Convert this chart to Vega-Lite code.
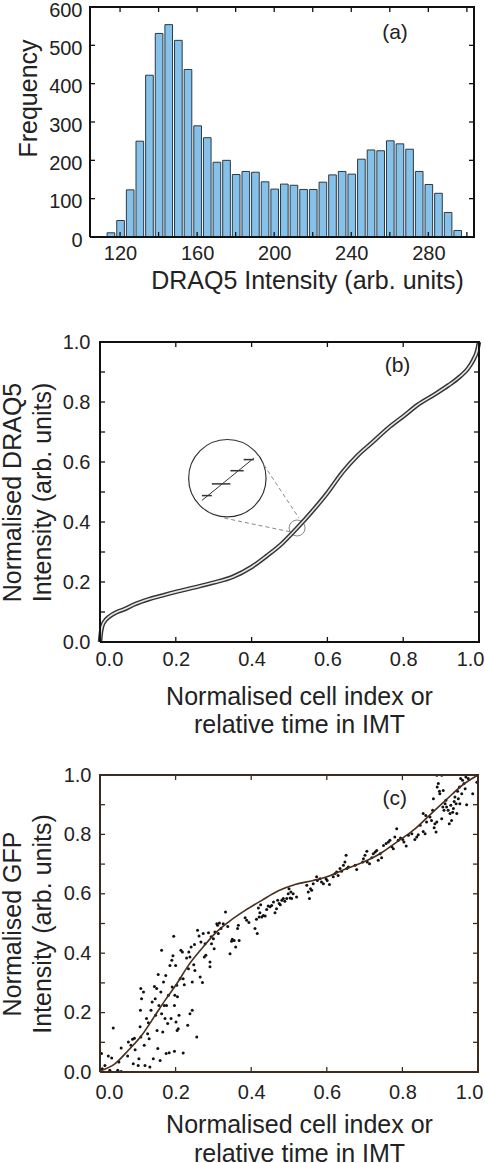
{
  "$schema": "https://vega.github.io/schema/vega-lite/v6.json",
  "padding": {"left": 0, "top": 0, "right": 0, "bottom": 0},
  "background": "white",
  "spacing": 39,
  "config": {
    "font": "Liberation Sans",
    "axis": {
      "labelFont": "Liberation Sans", "labelFontSize": 20, "labelColor": "#222",
      "titleFont": "Liberation Sans", "titleFontSize": 25, "titleFontWeight": "normal", "titleColor": "#222",
      "grid": false, "domain": false, "ticks": false
    }
  },
  "vconcat": [
    {
      "width": 384, "height": 230,
      "view": {"stroke": null},
      "resolve": {"axis": {"x": "independent", "y": "independent"}},
      "layer": [
        {
          "data": {"values": [
            {"lo":112.5,"hi":117.5,"n":11},{"lo":117.5,"hi":122.5,"n":43},{"lo":122.5,"hi":127.5,"n":123},
            {"lo":127.5,"hi":132.5,"n":250},{"lo":132.5,"hi":137.5,"n":422},{"lo":137.5,"hi":142.5,"n":531},
            {"lo":142.5,"hi":147.5,"n":554},{"lo":147.5,"hi":152.5,"n":513},{"lo":152.5,"hi":157.5,"n":437},
            {"lo":157.5,"hi":162.5,"n":290},{"lo":162.5,"hi":167.5,"n":259},{"lo":167.5,"hi":172.5,"n":195},
            {"lo":172.5,"hi":177.5,"n":200},{"lo":177.5,"hi":182.5,"n":163},{"lo":182.5,"hi":187.5,"n":171},
            {"lo":187.5,"hi":192.5,"n":169},{"lo":192.5,"hi":197.5,"n":144},{"lo":197.5,"hi":202.5,"n":125},
            {"lo":202.5,"hi":207.5,"n":138},{"lo":207.5,"hi":212.5,"n":135},{"lo":212.5,"hi":217.5,"n":124},
            {"lo":217.5,"hi":222.5,"n":124},{"lo":222.5,"hi":227.5,"n":143},{"lo":227.5,"hi":232.5,"n":162},
            {"lo":232.5,"hi":237.5,"n":171},{"lo":237.5,"hi":242.5,"n":164},{"lo":242.5,"hi":247.5,"n":203},
            {"lo":247.5,"hi":252.5,"n":227},{"lo":252.5,"hi":257.5,"n":225},{"lo":257.5,"hi":262.5,"n":251},
            {"lo":262.5,"hi":267.5,"n":243},{"lo":267.5,"hi":272.5,"n":229},{"lo":272.5,"hi":277.5,"n":171},
            {"lo":277.5,"hi":282.5,"n":137},{"lo":282.5,"hi":287.5,"n":114},{"lo":287.5,"hi":292.5,"n":64},
            {"lo":292.5,"hi":297.5,"n":17}
          ]},
          "mark": {"type": "bar", "fill": "#86c1ea", "stroke": "#2b3a44", "strokeWidth": 1, "binSpacing": 2},
          "encoding": {
            "x": {"field": "lo", "type": "quantitative", "bin": "binned",
              "scale": {"domain": [104.4, 303.7], "nice": false, "zero": false},
              "axis": {"values": [120,160,200,240,280], "labelPadding": 6,
                "title": "DRAQ5 Intensity (arb. units)", "titleX": 217, "titlePadding": 5}},
            "x2": {"field": "hi"},
            "y": {"field": "n", "type": "quantitative",
              "scale": {"domain": [0, 600], "nice": false},
              "axis": {"values": [0,100,200,300,400,500,600], "labelPadding": 8, "labelOffset": 3,
                "title": "Frequency", "titlePadding": 7, "titleY": 91}}
          }
        },
        {
          "data": {"values": [
            {"k":1,"x":120,"y":0},{"k":1,"x":120,"y":13},{"k":2,"x":140,"y":0},{"k":2,"x":140,"y":13},
            {"k":3,"x":160,"y":0},{"k":3,"x":160,"y":13},{"k":4,"x":180,"y":0},{"k":4,"x":180,"y":13},
            {"k":5,"x":200,"y":0},{"k":5,"x":200,"y":13},{"k":6,"x":220,"y":0},{"k":6,"x":220,"y":13},
            {"k":7,"x":240,"y":0},{"k":7,"x":240,"y":13},{"k":8,"x":260,"y":0},{"k":8,"x":260,"y":13},
            {"k":9,"x":280,"y":0},{"k":9,"x":280,"y":13},{"k":10,"x":300,"y":0},{"k":10,"x":300,"y":13},
            {"k":11,"x":120,"y":600},{"k":11,"x":120,"y":587},{"k":12,"x":140,"y":600},{"k":12,"x":140,"y":587},
            {"k":13,"x":160,"y":600},{"k":13,"x":160,"y":587},{"k":14,"x":180,"y":600},{"k":14,"x":180,"y":587},
            {"k":15,"x":200,"y":600},{"k":15,"x":200,"y":587},{"k":16,"x":220,"y":600},{"k":16,"x":220,"y":587},
            {"k":17,"x":240,"y":600},{"k":17,"x":240,"y":587},{"k":18,"x":260,"y":600},{"k":18,"x":260,"y":587},
            {"k":19,"x":280,"y":600},{"k":19,"x":280,"y":587},{"k":20,"x":300,"y":600},{"k":20,"x":300,"y":587},
            {"k":21,"x":104.4,"y":100},{"k":21,"x":107,"y":100},{"k":22,"x":104.4,"y":200},{"k":22,"x":107,"y":200},
            {"k":23,"x":104.4,"y":300},{"k":23,"x":107,"y":300},{"k":24,"x":104.4,"y":400},{"k":24,"x":107,"y":400},
            {"k":25,"x":104.4,"y":500},{"k":25,"x":107,"y":500},
            {"k":26,"x":301.1,"y":100},{"k":26,"x":303.7,"y":100},{"k":27,"x":301.1,"y":200},{"k":27,"x":303.7,"y":200},
            {"k":28,"x":301.1,"y":300},{"k":28,"x":303.7,"y":300},{"k":29,"x":301.1,"y":400},{"k":29,"x":303.7,"y":400},
            {"k":30,"x":301.1,"y":500},{"k":30,"x":303.7,"y":500}
          ]},
          "mark": {"type": "line", "stroke": "#111", "strokeWidth": 1.3},
          "encoding": {
            "x": {"field": "x", "type": "quantitative", "axis": null},
            "y": {"field": "y", "type": "quantitative", "axis": null},
            "detail": {"field": "k", "type": "nominal"}
          }
        },
        {
          "data": {"values": [
            {"x":104.4,"y":0,"o":1},{"x":303.7,"y":0,"o":2},{"x":303.7,"y":600,"o":3},{"x":104.4,"y":600,"o":4},{"x":104.4,"y":0,"o":5}
          ]},
          "mark": {"type": "line", "stroke": "#111", "strokeWidth": 2, "strokeJoin": "miter"},
          "encoding": {
            "x": {"field": "x", "type": "quantitative", "axis": null},
            "y": {"field": "y", "type": "quantitative", "axis": null},
            "order": {"field": "o", "type": "quantitative"}
          }
        },
        {
          "data": {"values": [{"x": 262.7, "y": 533, "t": "(a)"}]},
          "mark": {"type": "text", "fontSize": 21, "color": "#222", "font": "Liberation Sans"},
          "encoding": {
            "x": {"field": "x", "type": "quantitative", "axis": null},
            "y": {"field": "y", "type": "quantitative", "axis": null},
            "text": {"field": "t"}
          }
        }
      ]
    },
    {
      "spacing": 28,
      "vconcat": [
        {
          "width": 389, "height": 300,
          "view": {"stroke": null},
          "resolve": {"axis": {"x": "independent", "y": "independent"}},
          "layer": [
            {
              "data": {"values": [{"x":0.336,"y":0.546}]},
              "mark": {"type": "point", "shape": "circle", "size": 5990, "filled": false, "stroke": "#333", "strokeWidth": 1.2, "opacity": 1},
              "encoding": {
                "x": {"field": "x", "type": "quantitative", "scale": {"domain": [-0.026385, 1], "nice": false, "zero": false},
                  "axis": {"values": [0,0.2,0.4,0.6,0.8,1.0], "format": ".1f", "labelFlush": 12, "labelFlushOffset": 5, "labelPadding": 7.5,
                    "title": ["Normalised cell index or", "relative time in IMT"], "titleLineHeight": 28, "titleX": 209, "titlePadding": 14.5}},
                "y": {"field": "y", "type": "quantitative", "scale": {"domain": [0, 1], "nice": false},
                  "axis": {"values": [0,0.2,0.4,0.6,0.8,1.0], "format": ".1f", "offset": -10,
                    "labelPadding": 10, "title": ["Normalised DRAQ5", "Intensity (arb. units)"], "titleLineHeight": 30, "titlePadding": 7}}
              }
            },
            {
              "data": {"values": [{"x":0.52,"y":0.38}]},
              "mark": {"type": "point", "shape": "circle", "size": 256, "filled": false, "stroke": "#888", "strokeWidth": 1, "opacity": 1},
              "encoding": {
                "x": {"field": "x", "type": "quantitative", "axis": null},
                "y": {"field": "y", "type": "quantitative", "axis": null}
              }
            },
            {
              "data": {"values": [{"x":0.432,"y":0.591,"x2":0.525,"y2":0.413},{"x":0.328,"y":0.413,"x2":0.503,"y2":0.367}]},
              "mark": {"type": "rule", "stroke": "#888", "strokeWidth": 1, "strokeDash": [4, 3]},
              "encoding": {
                "x": {"field": "x", "type": "quantitative", "axis": null},
                "y": {"field": "y", "type": "quantitative", "axis": null},
                "x2": {"field": "x2"}, "y2": {"field": "y2"}
              }
            },
            {
              "data": {"values": [{"x":0.269,"y":0.472,"x2":0.406,"y2":0.613}]},
              "mark": {"type": "rule", "stroke": "#333", "strokeWidth": 1},
              "encoding": {
                "x": {"field": "x", "type": "quantitative", "axis": null},
                "y": {"field": "y", "type": "quantitative", "axis": null},
                "x2": {"field": "x2"}, "y2": {"field": "y2"}
              }
            },
            {
              "data": {"values": [{"x":0.269,"x2":0.295,"y":0.488},{"x":0.295,"x2":0.344,"y":0.527},{"x":0.344,"x2":0.379,"y":0.571},{"x":0.379,"x2":0.406,"y":0.608}]},
              "mark": {"type": "rule", "stroke": "#333", "strokeWidth": 1.5},
              "encoding": {
                "x": {"field": "x", "type": "quantitative", "axis": null},
                "x2": {"field": "x2"},
                "y": {"field": "y", "type": "quantitative", "axis": null}
              }
            },
            {
              "data": {"name": "curveB", "values": [
                {"x":0,"y":0},{"x":0.003,"y":0.036},{"x":0.009,"y":0.063},{"x":0.026,"y":0.086},{"x":0.045,"y":0.1},
                {"x":0.062,"y":0.108},{"x":0.09,"y":0.125},{"x":0.13,"y":0.143},{"x":0.17,"y":0.157},{"x":0.2,"y":0.167},
                {"x":0.25,"y":0.182},{"x":0.3,"y":0.198},{"x":0.35,"y":0.217},{"x":0.4,"y":0.25},{"x":0.44,"y":0.287},
                {"x":0.48,"y":0.328},{"x":0.52,"y":0.38},{"x":0.56,"y":0.436},{"x":0.6,"y":0.497},{"x":0.64,"y":0.566},
                {"x":0.68,"y":0.622},{"x":0.72,"y":0.667},{"x":0.76,"y":0.713},{"x":0.8,"y":0.752},{"x":0.84,"y":0.792},
                {"x":0.88,"y":0.823},{"x":0.92,"y":0.856},{"x":0.95,"y":0.885},{"x":0.97,"y":0.91},{"x":0.985,"y":0.94},
                {"x":0.995,"y":0.97},{"x":1.0,"y":1.0}
              ]},
              "mark": {"type": "line", "stroke": "#333", "strokeWidth": 4.5, "interpolate": "monotone"},
              "encoding": {
                "x": {"field": "x", "type": "quantitative", "axis": null},
                "y": {"field": "y", "type": "quantitative", "axis": null}
              }
            },
            {
              "data": {"name": "curveB"},
              "mark": {"type": "line", "stroke": "#e6e6e6", "strokeWidth": 1.6, "interpolate": "monotone"},
              "encoding": {
                "x": {"field": "x", "type": "quantitative", "axis": null},
                "y": {"field": "y", "type": "quantitative", "axis": null}
              }
            },
            {
              "data": {"name": "ticksUnit", "values": [
                {"k":1,"x":0.2,"y":0},{"k":1,"x":0.2,"y":0.0167},{"k":2,"x":0.4,"y":0},{"k":2,"x":0.4,"y":0.0167},
                {"k":3,"x":0.6,"y":0},{"k":3,"x":0.6,"y":0.0167},{"k":4,"x":0.8,"y":0},{"k":4,"x":0.8,"y":0.0167},
                {"k":5,"x":0.2,"y":1},{"k":5,"x":0.2,"y":0.9833},{"k":6,"x":0.4,"y":1},{"k":6,"x":0.4,"y":0.9833},
                {"k":7,"x":0.6,"y":1},{"k":7,"x":0.6,"y":0.9833},{"k":8,"x":0.8,"y":1},{"k":8,"x":0.8,"y":0.9833},
                {"k":9,"x":0,"y":0.1},{"k":9,"x":0.0132,"y":0.1},{"k":10,"x":0,"y":0.2},{"k":10,"x":0.0132,"y":0.2},
                {"k":11,"x":0,"y":0.3},{"k":11,"x":0.0132,"y":0.3},{"k":12,"x":0,"y":0.4},{"k":12,"x":0.0132,"y":0.4},
                {"k":13,"x":0,"y":0.5},{"k":13,"x":0.0132,"y":0.5},{"k":14,"x":0,"y":0.6},{"k":14,"x":0.0132,"y":0.6},
                {"k":15,"x":0,"y":0.7},{"k":15,"x":0.0132,"y":0.7},{"k":16,"x":0,"y":0.8},{"k":16,"x":0.0132,"y":0.8},
                {"k":17,"x":0,"y":0.9},{"k":17,"x":0.0132,"y":0.9},
                {"k":18,"x":0.9868,"y":0.1},{"k":18,"x":1,"y":0.1},{"k":19,"x":0.9868,"y":0.2},{"k":19,"x":1,"y":0.2},
                {"k":20,"x":0.9868,"y":0.3},{"k":20,"x":1,"y":0.3},{"k":21,"x":0.9868,"y":0.4},{"k":21,"x":1,"y":0.4},
                {"k":22,"x":0.9868,"y":0.5},{"k":22,"x":1,"y":0.5},{"k":23,"x":0.9868,"y":0.6},{"k":23,"x":1,"y":0.6},
                {"k":24,"x":0.9868,"y":0.7},{"k":24,"x":1,"y":0.7},{"k":25,"x":0.9868,"y":0.8},{"k":25,"x":1,"y":0.8},
                {"k":26,"x":0.9868,"y":0.9},{"k":26,"x":1,"y":0.9}
              ]},
              "mark": {"type": "line", "stroke": "#111", "strokeWidth": 1.3},
              "encoding": {
                "x": {"field": "x", "type": "quantitative", "axis": null},
                "y": {"field": "y", "type": "quantitative", "axis": null},
                "detail": {"field": "k", "type": "nominal"}
              }
            },
            {
              "data": {"name": "frameUnit", "values": [
                {"x":0,"y":0,"o":1},{"x":1,"y":0,"o":2},{"x":1,"y":1,"o":3},{"x":0,"y":1,"o":4},{"x":0,"y":0,"o":5}
              ]},
              "mark": {"type": "line", "stroke": "#111", "strokeWidth": 2, "strokeJoin": "miter"},
              "encoding": {
                "x": {"field": "x", "type": "quantitative", "axis": null},
                "y": {"field": "y", "type": "quantitative", "axis": null},
                "order": {"field": "o", "type": "quantitative"}
              }
            },
            {
              "data": {"values": [{"x": 0.785, "y": 0.919, "t": "(b)"}]},
              "mark": {"type": "text", "fontSize": 21, "color": "#222", "font": "Liberation Sans"},
              "encoding": {
                "x": {"field": "x", "type": "quantitative", "axis": null},
                "y": {"field": "y", "type": "quantitative", "axis": null},
                "text": {"field": "t"}
              }
            }
          ]
        },
        {
          "width": 388, "height": 297,
          "view": {"stroke": null},
          "resolve": {"axis": {"x": "independent", "y": "independent"}},
          "layer": [
            {
              "data": {"values": [
                {"x":0.004,"y":0.062},{"x":0.006,"y":0.011},{"x":0.013,"y":0.022},{"x":0.022,"y":0.054},{"x":0.031,"y":0.047},
                {"x":0.035,"y":0.148},{"x":0.026,"y":0.006},{"x":0.047,"y":0.006},{"x":0.056,"y":0.002},{"x":0.05,"y":0.034},
                {"x":0.056,"y":0.081},{"x":0.073,"y":0.054},{"x":0.075,"y":0.101},{"x":0.082,"y":0.09},{"x":0.086,"y":0.11},
                {"x":0.091,"y":0.114},{"x":0.093,"y":0.075},{"x":0.088,"y":0.028},{"x":0.101,"y":0.022},{"x":0.103,"y":0.045},
                {"x":0.106,"y":0.152},{"x":0.108,"y":0.118},{"x":0.107,"y":0.208},{"x":0.11,"y":0.247},{"x":0.108,"y":0.281},
                {"x":0.115,"y":0.269},{"x":0.117,"y":0.09},{"x":0.119,"y":0.022},{"x":0.123,"y":0.18},{"x":0.126,"y":0.129},
                {"x":0.128,"y":0.166},{"x":0.13,"y":0.112},{"x":0.132,"y":0.017},{"x":0.135,"y":0.208},{"x":0.138,"y":0.236},
                {"x":0.141,"y":0.045},{"x":0.144,"y":0.288},{"x":0.146,"y":0.247},{"x":0.147,"y":0.191},{"x":0.15,"y":0.281},
                {"x":0.151,"y":0.14},{"x":0.153,"y":0.079},{"x":0.154,"y":0.328},{"x":0.156,"y":0.224},{"x":0.159,"y":0.039},
                {"x":0.161,"y":0.269},{"x":0.163,"y":0.41},{"x":0.163,"y":0.196},{"x":0.166,"y":0.135},{"x":0.168,"y":0.303},
                {"x":0.17,"y":0.224},{"x":0.172,"y":0.18},{"x":0.174,"y":0.325},{"x":0.175,"y":0.062},{"x":0.176,"y":0.224},
                {"x":0.179,"y":0.163},{"x":0.181,"y":0.258},{"x":0.183,"y":0.065},{"x":0.185,"y":0.359},{"x":0.188,"y":0.18},
                {"x":0.19,"y":0.376},{"x":0.191,"y":0.286},{"x":0.193,"y":0.391},{"x":0.195,"y":0.457},{"x":0.197,"y":0.224},
                {"x":0.197,"y":0.07},{"x":0.198,"y":0.258},{"x":0.2,"y":0.359},{"x":0.201,"y":0.168},{"x":0.203,"y":0.292},
                {"x":0.204,"y":0.14},{"x":0.205,"y":0.253},{"x":0.207,"y":0.146},{"x":0.209,"y":0.191},{"x":0.212,"y":0.314},
                {"x":0.214,"y":0.41},{"x":0.218,"y":0.404},{"x":0.22,"y":0.064},{"x":0.22,"y":0.314},{"x":0.223,"y":0.294},
                {"x":0.229,"y":0.384},{"x":0.232,"y":0.157},{"x":0.234,"y":0.348},{"x":0.235,"y":0.404},{"x":0.238,"y":0.196},
                {"x":0.238,"y":0.387},{"x":0.241,"y":0.421},{"x":0.244,"y":0.208},{"x":0.244,"y":0.303},{"x":0.248,"y":0.361},
                {"x":0.25,"y":0.429},{"x":0.251,"y":0.342},{"x":0.256,"y":0.118},{"x":0.258,"y":0.477},{"x":0.262,"y":0.458},
                {"x":0.265,"y":0.32},{"x":0.267,"y":0.438},{"x":0.271,"y":0.301},{"x":0.273,"y":0.466},{"x":0.276,"y":0.387},
                {"x":0.278,"y":0.432},{"x":0.28,"y":0.393},{"x":0.287,"y":0.469},{"x":0.291,"y":0.37},{"x":0.291,"y":0.354},
                {"x":0.294,"y":0.455},{"x":0.295,"y":0.432},{"x":0.3,"y":0.449},{"x":0.302,"y":0.415},{"x":0.304,"y":0.471},
                {"x":0.309,"y":0.499},{"x":0.311,"y":0.494},{"x":0.313,"y":0.466},{"x":0.316,"y":0.502},{"x":0.32,"y":0.483},
                {"x":0.326,"y":0.499},{"x":0.332,"y":0.539},{"x":0.338,"y":0.49},{"x":0.344,"y":0.398},{"x":0.348,"y":0.44},
                {"x":0.35,"y":0.447},{"x":0.355,"y":0.443},{"x":0.359,"y":0.421},{"x":0.364,"y":0.483},{"x":0.366,"y":0.494},
                {"x":0.368,"y":0.443},{"x":0.384,"y":0.519},{"x":0.388,"y":0.511},{"x":0.394,"y":0.503},{"x":0.41,"y":0.483},
                {"x":0.414,"y":0.514},{"x":0.416,"y":0.466},{"x":0.419,"y":0.552},{"x":0.421,"y":0.522},{"x":0.423,"y":0.536},
                {"x":0.425,"y":0.563},{"x":0.428,"y":0.522},{"x":0.432,"y":0.527},{"x":0.437,"y":0.525},{"x":0.441,"y":0.547},
                {"x":0.445,"y":0.559},{"x":0.45,"y":0.556},{"x":0.454,"y":0.561},{"x":0.459,"y":0.572},{"x":0.463,"y":0.536},
                {"x":0.467,"y":0.55},{"x":0.47,"y":0.578},{"x":0.474,"y":0.567},{"x":0.477,"y":0.563},{"x":0.481,"y":0.578},
                {"x":0.485,"y":0.584},{"x":0.489,"y":0.575},{"x":0.494,"y":0.584},{"x":0.498,"y":0.6},{"x":0.5,"y":0.617},
                {"x":0.503,"y":0.586},{"x":0.505,"y":0.606},
                {"x":0.507,"y":0.584},{"x":0.511,"y":0.6},{"x":0.52,"y":0.589},{"x":0.547,"y":0.629},{"x":0.551,"y":0.606},
                {"x":0.554,"y":0.584},{"x":0.557,"y":0.617},{"x":0.56,"y":0.612},{"x":0.564,"y":0.634},{"x":0.573,"y":0.657},
                {"x":0.575,"y":0.645},{"x":0.582,"y":0.651},{"x":0.586,"y":0.64},{"x":0.591,"y":0.634},{"x":0.598,"y":0.651},
                {"x":0.601,"y":0.645},{"x":0.607,"y":0.631},{"x":0.617,"y":0.657},{"x":0.622,"y":0.668},{"x":0.626,"y":0.673},
                {"x":0.63,"y":0.662},{"x":0.635,"y":0.685},{"x":0.639,"y":0.676},{"x":0.644,"y":0.696},{"x":0.648,"y":0.707},
                {"x":0.651,"y":0.73},{"x":0.653,"y":0.685},{"x":0.657,"y":0.69},{"x":0.675,"y":0.696},{"x":0.679,"y":0.682},
                {"x":0.695,"y":0.707},{"x":0.697,"y":0.718},{"x":0.701,"y":0.73},{"x":0.706,"y":0.743},{"x":0.707,"y":0.707},
                {"x":0.713,"y":0.701},{"x":0.719,"y":0.721},{"x":0.723,"y":0.735},{"x":0.728,"y":0.741},{"x":0.732,"y":0.746},
                {"x":0.736,"y":0.713},{"x":0.741,"y":0.735},{"x":0.745,"y":0.721},{"x":0.75,"y":0.763},{"x":0.757,"y":0.769},
                {"x":0.763,"y":0.774},{"x":0.767,"y":0.78},{"x":0.772,"y":0.758},{"x":0.776,"y":0.752},{"x":0.78,"y":0.791},
                {"x":0.785,"y":0.819},{"x":0.789,"y":0.78},{"x":0.795,"y":0.788},{"x":0.801,"y":0.783},{"x":0.804,"y":0.774},
                {"x":0.81,"y":0.761},{"x":0.816,"y":0.797},{"x":0.825,"y":0.802},{"x":0.833,"y":0.783},{"x":0.838,"y":0.791},
                {"x":0.842,"y":0.799},{"x":0.847,"y":0.831},{"x":0.855,"y":0.81},{"x":0.86,"y":0.802},{"x":0.855,"y":0.87},
                {"x":0.862,"y":0.864},{"x":0.864,"y":0.842},{"x":0.873,"y":0.859},{"x":0.877,"y":0.847},{"x":0.88,"y":0.881},
                {"x":0.882,"y":0.92},{"x":0.884,"y":0.822},{"x":0.886,"y":0.836},{"x":0.889,"y":0.808},{"x":0.891,"y":0.842},
                {"x":0.892,"y":0.96},{"x":0.895,"y":0.971},{"x":0.898,"y":0.945},{"x":0.899,"y":0.937},{"x":0.904,"y":0.853},
                {"x":0.907,"y":0.892},{"x":0.908,"y":0.948},{"x":0.91,"y":0.881},{"x":0.913,"y":0.903},{"x":0.915,"y":0.915},
                {"x":0.917,"y":0.892},{"x":0.921,"y":0.881},{"x":0.924,"y":0.836},{"x":0.926,"y":0.87},{"x":0.928,"y":0.898},
                {"x":0.93,"y":0.847},{"x":0.933,"y":0.875},{"x":0.935,"y":0.887},{"x":0.937,"y":0.911},{"x":0.939,"y":0.926},
                {"x":0.942,"y":0.903},{"x":0.944,"y":0.87},{"x":0.946,"y":0.945},{"x":0.948,"y":0.92},{"x":0.951,"y":0.96},
                {"x":0.952,"y":0.903},{"x":0.954,"y":0.988},{"x":0.957,"y":0.937},{"x":0.959,"y":0.982},{"x":0.963,"y":0.971},
                {"x":0.966,"y":0.954},{"x":0.968,"y":0.993},{"x":0.97,"y":0.9},{"x":0.974,"y":0.988},{"x":0.986,"y":0.937},
                {"x":0.997,"y":0.976},{"x":0.904,"y":0.999},{"x":0.891,"y":0.999}
              ]},
              "mark": {"type": "point", "shape": "circle", "filled": true, "size": 9, "color": "#111", "opacity": 1, "clip": true},
              "encoding": {
                "x": {"field": "x", "type": "quantitative", "scale": {"domain": [-0.026455, 1], "nice": false, "zero": false},
                  "axis": {"values": [0,0.2,0.4,0.6,0.8,1.0], "format": ".1f", "labelFlush": 12, "labelFlushOffset": 5, "labelPadding": 10,
                    "title": ["Normalised cell index or", "relative time in IMT"], "titleLineHeight": 29, "titleX": 209, "titlePadding": 10}},
                "y": {"field": "y", "type": "quantitative", "scale": {"domain": [0, 1], "nice": false},
                  "axis": {"values": [0,0.2,0.4,0.6,0.8,1.0], "format": ".1f", "offset": -10,
                    "labelPadding": 9, "title": ["Normalised GFP", "Intensity (arb. units)"], "titleLineHeight": 30, "titlePadding": 8}}
              }
            },
            {
              "data": {"values": [
                {"x":0,"y":0.003},{"x":0.04,"y":0.028},{"x":0.075,"y":0.073},{"x":0.11,"y":0.123},{"x":0.146,"y":0.191},
                {"x":0.172,"y":0.241},{"x":0.203,"y":0.297},{"x":0.234,"y":0.359},{"x":0.269,"y":0.415},{"x":0.304,"y":0.466},
                {"x":0.34,"y":0.505},{"x":0.384,"y":0.544},{"x":0.428,"y":0.578},{"x":0.472,"y":0.61},{"x":0.516,"y":0.631},
                {"x":0.564,"y":0.645},{"x":0.61,"y":0.662},{"x":0.653,"y":0.685},{"x":0.697,"y":0.707},{"x":0.741,"y":0.735},
                {"x":0.785,"y":0.774},{"x":0.829,"y":0.814},{"x":0.873,"y":0.866},{"x":0.917,"y":0.918},{"x":0.961,"y":0.968},
                {"x":1.0,"y":1.0}
              ]},
              "mark": {"type": "line", "stroke": "#4a2e1c", "strokeWidth": 1.6, "interpolate": "monotone"},
              "encoding": {
                "x": {"field": "x", "type": "quantitative", "axis": null},
                "y": {"field": "y", "type": "quantitative", "axis": null}
              }
            },
            {
              "data": {"name": "ticksUnit"},
              "mark": {"type": "line", "stroke": "#3d2b1f", "strokeWidth": 1.3},
              "encoding": {
                "x": {"field": "x", "type": "quantitative", "axis": null},
                "y": {"field": "y", "type": "quantitative", "axis": null},
                "detail": {"field": "k", "type": "nominal"}
              }
            },
            {
              "data": {"name": "frameUnit"},
              "mark": {"type": "line", "stroke": "#3d2b1f", "strokeWidth": 2, "strokeJoin": "miter"},
              "encoding": {
                "x": {"field": "x", "type": "quantitative", "axis": null},
                "y": {"field": "y", "type": "quantitative", "axis": null},
                "order": {"field": "o", "type": "quantitative"}
              }
            },
            {
              "data": {"values": [{"x": 0.78, "y": 0.92, "t": "(c)"}]},
              "mark": {"type": "text", "fontSize": 21, "color": "#222", "font": "Liberation Sans"},
              "encoding": {
                "x": {"field": "x", "type": "quantitative", "axis": null},
                "y": {"field": "y", "type": "quantitative", "axis": null},
                "text": {"field": "t"}
              }
            }
          ]
        }
      ]
    }
  ]
}
